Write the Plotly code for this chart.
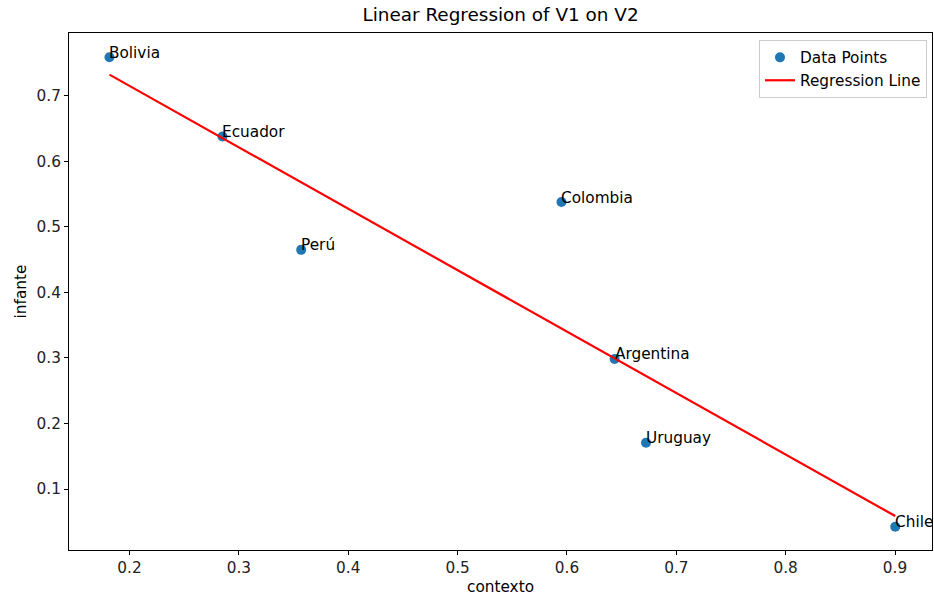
import numpy as np
import plotly.graph_objects as go

countries = ["Bolivia", "Ecuador", "Perú", "Colombia", "Argentina", "Uruguay", "Chile"]
contexto = [0.1817, 0.2850, 0.3570, 0.5950, 0.6436, 0.6723, 0.9002]
infante = [0.7590, 0.6380, 0.4650, 0.5380, 0.2985, 0.1707, 0.0424]

slope, intercept = np.polyfit(contexto, infante, 1)
xs_line = np.array(contexto)
ys_line = slope * xs_line + intercept

font = "DejaVu Sans"
fs = 15.3
fig = go.Figure()
fig.add_trace(go.Scatter(
    x=contexto, y=infante, mode="markers", name="Data Points",
    marker=dict(color="#1f77b4", size=10),
))
fig.add_trace(go.Scatter(
    x=xs_line, y=ys_line, mode="lines", name="Regression Line",
    line=dict(color="red", width=2.2),
))
for c, x, y in zip(countries, contexto, infante):
    fig.add_annotation(x=x, y=y, text=c, showarrow=False, xanchor="left", yanchor="bottom",
                       xshift=-2, yshift=-6.5, font=dict(family=font, size=fs, color="black"))

axis_common = dict(showline=True, linecolor="black", linewidth=1, mirror=True, automargin=False,
                   ticks="outside", ticklen=4, tickcolor="black", showgrid=False, zeroline=False,
                   tickfont=dict(family=font, size=fs, color="#222"))
fig.update_layout(
    width=934, height=598,
    paper_bgcolor="white", plot_bgcolor="white",
    margin=dict(l=69, r=2, t=33, b=48),
    title=dict(text="Linear Regression of V1 on V2", x=(69 + 932) / 2 / 934, xanchor="center",
               y=1 - 15 / 598, yanchor="middle", font=dict(family=font, size=18.4, color="black")),
    xaxis=dict(range=[0.1447, 0.9338], tickvals=[0.2, 0.3, 0.4, 0.5, 0.6, 0.7, 0.8, 0.9],
               title=dict(text="contexto", font=dict(family=font, size=fs, color="black"), standoff=4),
               **axis_common),
    yaxis=dict(range=[0.0069, 0.796], tickvals=[0.1, 0.2, 0.3, 0.4, 0.5, 0.6, 0.7],
               title=dict(text="infante", font=dict(family=font, size=fs, color="black"), standoff=6),
               **axis_common),
    legend=dict(x=0.9942, y=0.9866, xanchor="right", yanchor="top", bgcolor="rgba(255,255,255,0.8)",
                bordercolor="#cccccc", borderwidth=1, font=dict(family=font, size=fs, color="black"),
                tracegroupgap=0, itemwidth=30),
    showlegend=True,
)
fig.write_html("out.html", config={"displayModeBar": False},
               post_script="document.body.style.margin='0';document.body.style.overflow='hidden';")
